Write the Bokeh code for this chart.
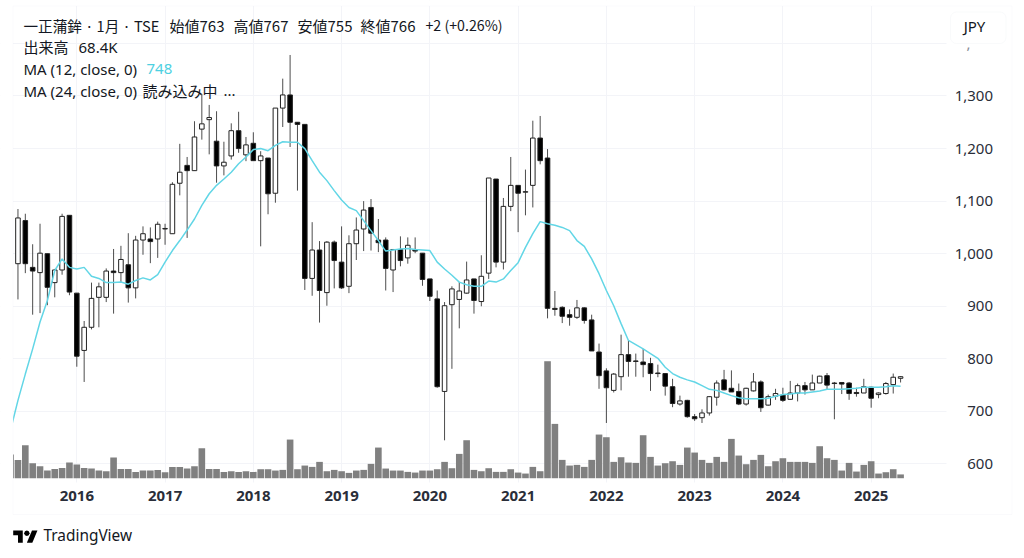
from bokeh.embed import file_html
from bokeh.resources import INLINE
from bokeh.models import (BoxAnnotation, ColumnDataSource, FixedTicker, Label, LinearAxis,
                          NumeralTickFormatter, PolyAnnotation, Range1d)
from bokeh.plotting import figure

# ---- data ----
opens = [981,1063,974,964,1000,945,969,1073,925,816,860,917,917,967,964,979,935,1026,1028,1028,1047,1038,1134,1168,1158,
         1237,1255,1214,1167,1186,1234,1188,1210,1177,1182,1115,1277,1302,1250,1246,953,1007,926,1022,984,938,1019,1047,1088,
         1026,1026,969,1008,992,1008,1001,952,914,738,903,913,925,952,909,963,1142,984,1090,1130,1117,1130,1220,1182,896,898,
         884,879,897,874,813,777,740,766,808,796,794,791,773,772,747,714,721,690,688,697,727,760,744,738,714,739,756,712,729,
         731,723,735,749,741,754,768,754,755,754,736,735,746,732,734,751,763]
highs = [1085,1076,1018,1057,1000,971,1076,1073,925,872,945,945,972,1009,1015,1039,1034,1052,1050,1061,1057,1136,1209,1184,1252,
         1304,1283,1271,1213,1248,1270,1222,1231,1195,1182,1277,1333,1378,1250,1246,1060,1024,1024,1025,1052,1035,1069,1100,1104,
         1066,1031,1009,1033,1031,1031,1001,952,930,908,938,946,985,952,997,1144,1142,1106,1184,1130,1160,1253,1262,1199,929,900,
         894,912,898,884,829,782,773,846,835,810,819,802,789,773,762,730,722,695,704,729,759,779,778,753,745,773,759,732,743,
         745,758,753,756,770,768,773,756,755,756,745,762,747,736,756,772,767]
lows = [913,963,884,887,902,917,960,921,785,756,856,860,908,886,946,907,915,998,982,992,1017,1038,1111,1030,1158,
        1217,1189,1135,1149,1179,1192,1176,1177,1014,1075,1097,1241,1203,1120,931,920,869,901,934,933,925,988,1005,1006,
        1003,930,927,976,981,1001,939,910,745,645,781,858,924,886,900,952,974,970,1081,1041,1073,1088,1170,877,882,868,
        863,876,867,815,743,678,736,740,766,766,765,739,765,730,708,711,688,682,678,692,711,740,737,712,711,738,699,711,722,
        718,722,719,732,741,754,742,685,733,722,728,735,707,725,732,734,755]
closes = [1068,981,967,1001,936,969,1071,927,805,860,915,937,967,964,989,935,1026,1038,1023,1056,1048,1132,1155,1158,1222,
          1247,1259,1167,1174,1234,1200,1207,1177,1186,1114,1277,1302,1250,1246,953,1007,930,1022,987,935,1019,1045,1083,1039,
          1021,972,1008,987,1016,1005,951,919,747,901,933,929,950,911,957,1144,984,1090,1130,1115,1118,1220,1177,896,894,881,
          879,897,873,815,768,745,771,808,795,795,789,772,772,748,715,720,690,686,697,728,754,741,737,714,744,756,707,728,734,
          721,735,749,741,754,767,750,753,752,734,734,747,725,735,753,765,766]
# thousands of shares, one bar earlier than the first candle
volumes_k = [426,330,594,270,216,138,168,186,282,246,186,174,138,126,372,168,168,114,138,138,150,108,204,204,174,216,540,168,168,
             114,126,114,126,114,162,162,138,150,696,162,228,204,294,126,150,126,96,138,150,258,552,174,138,138,114,102,138,138,
             162,294,180,438,684,150,126,180,114,114,162,102,84,204,126,2106,978,330,228,240,204,330,786,738,294,378,282,276,774,
             384,228,270,306,240,552,462,330,276,384,294,708,408,252,330,420,216,306,360,294,294,294,276,576,360,330,138,276,120,
             240,306,84,108,162,68.4]
ma12 = [665,721,771,819,870,911,968,990,974,971,974,957,953,945,945,946,942,949,954,950,960,984,1006,1025,1045,1066,1092,1114,1130,
        1142,1155,1171,1184,1198,1200,1196,1206,1213,1212,1212,1200,1177,1155,1139,1120,1102,1088,1082,1063,1044,1025,1005,1007,
        1009,1010,1008,1007,1006,984,971,959,946,941,938,938,948,946,952,968,983,1012,1038,1061,1057,1054,1050,1044,1025,1014,990,
        962,930,901,867,835,827,819,810,801,784,772,765,760,756,749,742,740,735,730,726,724,724,724,725,729,732,733,735,735,737,
        739,742,742,742,743,744,746,746,746,747,749,748]
year_labels = {8: "2016", 20: "2017", 32: "2018", 44: "2019", 56: "2020", 68: "2021", 80: "2022", 92: "2023", 104: "2024", 116: "2025"}
price_ticks = [600, 700, 800, 900, 1000, 1100, 1200, 1300]
grid_prices = price_ticks + [1400]

title_parts = ["一正蒲鉾 · 1月 · TSE", "始値763", "高値767", "安値755", "終値766", "+2 (+0.26%)"]
INK = "#131722"
AXIS_INK = "#2a2e39"
GRID = "#f3f4f8"
EDGE = "#eef0f5"
JP = "Noto Sans CJK JP"
LATIN = "Noto Sans"
W, H = 1016, 550

# the frame fills the canvas, so every annotation can sit anywhere on it
p = figure(width=W, height=H, output_backend="svg", toolbar_location=None,
           x_range=Range1d(-2.374, 135.76), y_range=Range1d(435.4, 1481.66),
           min_border_left=0, min_border_right=0, min_border_top=0, min_border_bottom=0,
           x_axis_location=None, y_axis_location=None, background_fill_color="white")
p.outline_line_color = None

p.xgrid[0].ticker = FixedTicker(ticks=list(year_labels))
p.ygrid[0].ticker = FixedTicker(ticks=grid_prices)
p.grid.grid_line_color = GRID
p.grid.grid_line_width = 1

# volume on its own scale
p.extra_y_ranges = {"vol": Range1d(-1301, 8599)}
p.vbar(x=list(range(-1, len(volumes_k) - 1)), top=volumes_k, bottom=0, width=0.9, y_range_name="vol",
       fill_color="#808080", line_color=None)

# candles
idx = list(range(len(opens)))
src = ColumnDataSource(dict(x=idx, o=opens, h=highs, l=lows, c=closes,
                            top=[max(a, b) for a, b in zip(opens, closes)],
                            bot=[min(a, b) for a, b in zip(opens, closes)],
                            col=["white" if c >= o else "black" for o, c in zip(opens, closes)]))
p.segment(x0="x", x1="x", y0="l", y1="h", source=src, line_color="#000000", line_width=1, line_alpha=0.7)
p.vbar(x="x", top="top", bottom="bot", width=0.62, source=src, fill_color="col", line_color="#222222", line_width=1)

# moving average
p.line(list(range(-1, len(ma12) - 1)), ma12, line_color="#62d6e6", line_width=1.5)


def box(l, r, t, b, level="overlay", **kw):
    """Edges in window pixels."""
    p.add_layout(BoxAnnotation(left=l, right=r, top=H - t, bottom=H - b, level=level,
                               left_units="screen", right_units="screen", top_units="screen", bottom_units="screen",
                               **kw))


def lab(text, x, y, size="15px", color=INK, font=JP, align="left"):
    p.add_layout(Label(x=x, y=H - y, x_units="screen", y_units="screen", text=text, level="overlay",
                       text_font=font, text_font_size=size, text_color=color,
                       text_baseline="middle", text_align=align))


def poly(pts):
    p.add_layout(PolyAnnotation(xs=[a for a, b in pts], ys=[H - b for a, b in pts], level="overlay",
                                xs_units="screen", ys_units="screen", fill_color="#000000", fill_alpha=1,
                                line_color=None))


# white panes outside the chart area (hide what runs past its edges)
for edges in [(0, 12.5, 0, H), (946, W, 0, H), (0, W, 482, H), (0, W, 0, 5.5)]:
    box(*edges, level="annotation", fill_color="white", fill_alpha=1, line_color=None)

# axes are pinned inside the frame, above the panes
ya = LinearAxis(ticker=FixedTicker(ticks=price_ticks), formatter=NumeralTickFormatter(format="0,0"),
                fixed_location=133.38, level="overlay")
xa = LinearAxis(ticker=FixedTicker(ticks=list(year_labels)), major_label_overrides=dict(year_labels),
                fixed_location=559.1, level="overlay")
for ax in (xa, ya):
    ax.axis_line_color = None
    ax.major_tick_line_color = None
    ax.minor_tick_line_color = None
    ax.major_label_text_font = LATIN
    ax.major_label_text_font_size = "15px"
    ax.major_label_text_color = AXIS_INK
    ax.major_label_standoff = 0
xa.major_label_text_font_style = "bold"
p.add_layout(xa, "below")
p.add_layout(ya, "left")

# legend
for part, x, size in zip(title_parts, [23, 169, 233, 297, 360, 425],
                         ["14.6px", "15px", "15px", "15px", "15px", "14.2px"]):
    lab(part, x, 24.5, size=size)
lab("出来高", 23, 46)
lab("68.4K", 78, 46, font=LATIN)
lab("MA (12, close, 0)", 23, 68, font=LATIN)
lab("748", 146, 68, color="#4dd0e1", font=LATIN)
lab("MA (24, close, 0)", 23, 90, font=LATIN)
lab("読み込み中", 142, 90)
lab("...", 223, 90, font=LATIN)

# outer frame
box(12.5, 1011.5, 5.5, 514, fill_alpha=0, line_color=EDGE, line_width=1)

# currency button
box(950, 1005.5, 11.5, 43, fill_color="white", fill_alpha=1, line_color="#eceef3", line_width=1, border_radius=6)
lab("JPY", 974, 25.5, font=LATIN, align="center")
lab(",", 966, 43, font=LATIN, color="#8a8d96")

# TradingView mark and name
LX, LY, LS = 12.7, 530 - 4 * 0.683, 0.683
poly([(LX + a * LS, LY + b * LS) for a, b in [(14, 22), (7, 22), (7, 11), (0, 11), (0, 4), (14, 4)]])
poly([(LX + a * LS, LY + b * LS) for a, b in [(28, 22), (20, 22), (27.5, 4), (35.5, 4)]])
poly([(LX + a * LS, LY + b * LS) for a, b in [(24, 8), (22.8, 10.8), (20, 12), (17.2, 10.8), (16, 8), (17.2, 5.2), (20, 4), (22.8, 5.2)]])
lab("TradingView", 43, 534.5, size="15.4px", font=LATIN)

open("out.html", "w").write(file_html(p, INLINE))
